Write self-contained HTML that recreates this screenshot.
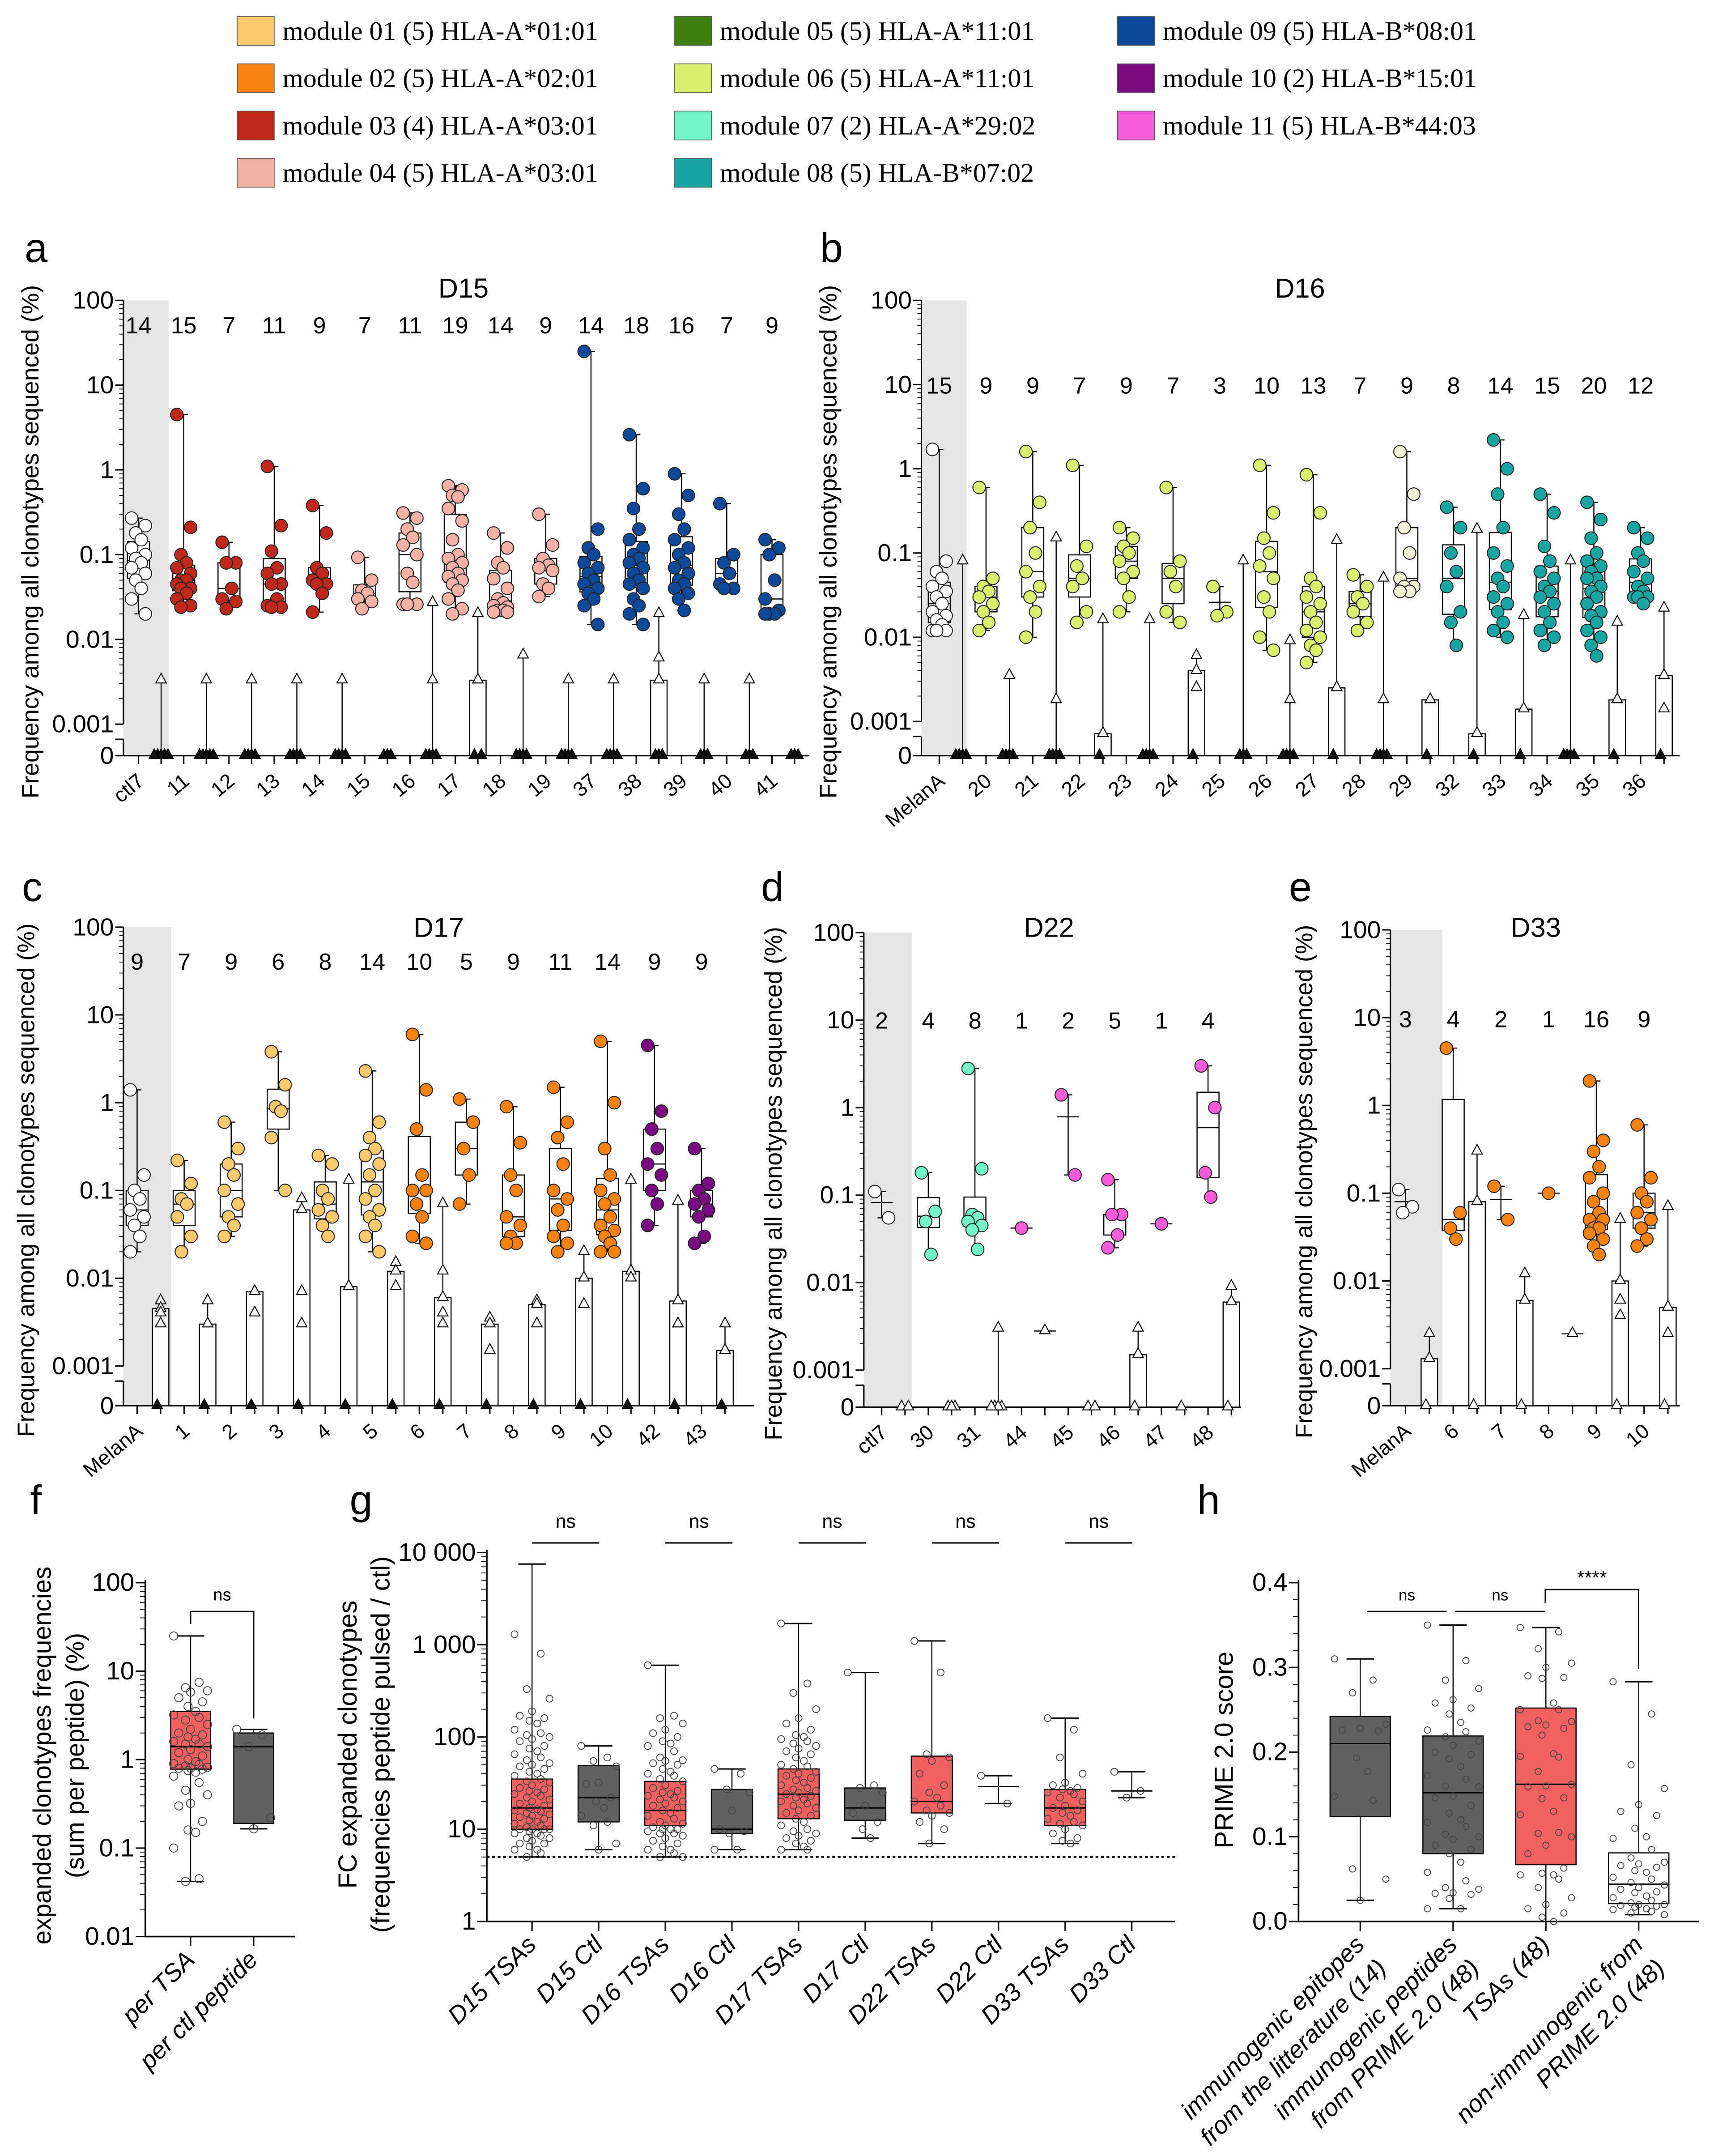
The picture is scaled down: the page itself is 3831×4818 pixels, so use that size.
<!DOCTYPE html>
<html><head><meta charset="utf-8"><style>
html,body{margin:0;padding:0;background:#fff;}
svg{display:block;}
</style></head><body>
<svg id="fig" xmlns="http://www.w3.org/2000/svg" width="3831" height="4818" viewBox="0 0 1250 1572" font-family="Liberation Sans, Arial, sans-serif"></svg>
<script>
const NS='http://www.w3.org/2000/svg';
const svg=document.getElementById('fig');
function mk(tag,attrs,parent,txt){const e=document.createElementNS(NS,tag);for(const k in attrs)e.setAttribute(k,attrs[k]);if(txt!==undefined)e.textContent=txt;(parent||svg).appendChild(e);return e;}

/* ---------- legend data ---------- */
const legendLabels=["module 01 (5) HLA-A*01:01","module 02 (5) HLA-A*02:01","module 03 (4) HLA-A*03:01","module 04 (5) HLA-A*03:01","module 05 (5) HLA-A*11:01","module 06 (5) HLA-A*11:01","module 07 (2) HLA-A*29:02","module 08 (5) HLA-B*07:02","module 09 (5)  HLA-B*08:01","module 10 (2) HLA-B*15:01","module 11 (5) HLA-B*44:03"];
const legendColors=["#F9C96B","#F5820F","#C0281B","#F5B1A6","#3E7D0F","#D8F06E","#72F5C9","#17A6A3","#0E4A9B","#7A0B82","#F55BDB"];
const M={m01:legendColors[0],m02:legendColors[1],m03:legendColors[2],m04:legendColors[3],m06:legendColors[5],m07:legendColors[6],m08:legendColors[7],m09:legendColors[8],m10:legendColors[9],m11:legendColors[10],w:"#ffffff",p:"#F4F2D6"};

/* ---------- panel a data ---------- */
const aCats=["ctl7","11","12","13","14","15","16","17","18","19","37","38","39","40","41"];
const aCounts=[14,15,7,11,9,7,11,19,14,9,14,18,16,7,9];
const aColors=["w","m03","m03","m03","m03","m04","m04","m04","m04","m04","m09","m09","m09","m09","m09"];
const aCirc=[[0.27,0.22,0.18,0.15,0.12,0.1,0.09,0.08,0.07,0.06,0.05,0.04,0.03,0.02],[4.5,0.21,0.1,0.08,0.07,0.06,0.05,0.05,0.045,0.04,0.04,0.035,0.03,0.025,0.024],[0.14,0.08,0.08,0.04,0.03,0.028,0.023],[1.1,0.22,0.11,0.07,0.06,0.045,0.045,0.03,0.025,0.024,0.024],[0.38,0.18,0.07,0.06,0.05,0.045,0.045,0.035,0.021],[0.093,0.05,0.038,0.035,0.03,0.028,0.023],[0.31,0.27,0.2,0.16,0.13,0.1,0.06,0.047,0.026,0.026,0.026],[0.65,0.58,0.5,0.48,0.35,0.25,0.15,0.1,0.09,0.08,0.07,0.06,0.055,0.05,0.045,0.038,0.03,0.023,0.02],[0.18,0.12,0.08,0.07,0.052,0.04,0.03,0.027,0.025,0.024,0.022,0.022,0.021,0.021],[0.3,0.13,0.09,0.075,0.07,0.065,0.045,0.04,0.032],[25,0.2,0.12,0.1,0.08,0.07,0.06,0.05,0.045,0.04,0.035,0.03,0.025,0.015],[2.6,0.6,0.35,0.2,0.15,0.12,0.1,0.09,0.08,0.07,0.06,0.05,0.045,0.04,0.03,0.025,0.02,0.015],[0.9,0.5,0.3,0.2,0.15,0.12,0.1,0.08,0.07,0.06,0.05,0.045,0.04,0.035,0.03,0.022],[0.4,0.1,0.08,0.06,0.045,0.04,0.04],[0.15,0.12,0.1,0.05,0.03,0.022,0.02,0.02,0.02]];
const aTri=[[0.0033,0,0,0,0,0],[0.0033,0,0,0,0,0],[0.0033,0,0,0,0],[0.0033,0,0,0,0],[0.0033,0,0,0,0],[0,0,0],[0.027,0.0033,0,0,0,0],[0.02,0.0033,0.0033,0,0],[0.0065,0,0,0,0],[0.0033,0,0,0,0],[0.0033,0,0,0,0],[0.02,0.006,0.0033,0,0,0],[0.0033,0,0,0],[0.0033,0,0,0],[0,0,0]];

/* ---------- panel b data ---------- */
const bCats=["MelanA","20","21","22","23","24","25","26","27","28","29","32","33","34","35","36"];
const bCounts=[15,9,9,7,9,7,3,10,13,7,9,8,14,15,20,12];
const bColors=["w","m06","m06","m06","m06","m06","m06","m06","m06","m06","p","m08","m08","m08","m08","m08"];
const bCirc=[[1.7,0.08,0.06,0.05,0.04,0.035,0.03,0.025,0.02,0.018,0.016,0.014,0.012,0.012,0.012],[0.6,0.05,0.04,0.035,0.03,0.025,0.02,0.015,0.012],[1.6,0.4,0.2,0.1,0.06,0.04,0.03,0.02,0.01],[1.1,0.12,0.07,0.05,0.04,0.02,0.015],[0.2,0.15,0.12,0.1,0.08,0.06,0.05,0.03,0.02],[0.6,0.08,0.06,0.04,0.02,0.015],[0.04,0.02,0.018],[1.1,0.3,0.15,0.1,0.07,0.05,0.03,0.02,0.01,0.007],[0.85,0.3,0.05,0.04,0.03,0.025,0.02,0.015,0.012,0.01,0.008,0.007,0.005],[0.055,0.04,0.03,0.025,0.02,0.015,0.012],[1.6,0.5,0.2,0.1,0.05,0.04,0.04,0.035,0.035],[0.35,0.2,0.1,0.06,0.04,0.02,0.015,0.008],[2.2,1,0.5,0.2,0.1,0.07,0.05,0.04,0.03,0.025,0.02,0.015,0.012,0.01],[0.5,0.3,0.12,0.08,0.06,0.05,0.04,0.035,0.03,0.025,0.02,0.015,0.012,0.01,0.008],[0.4,0.25,0.15,0.1,0.08,0.07,0.06,0.05,0.05,0.04,0.035,0.03,0.025,0.02,0.018,0.015,0.012,0.01,0.008,0.006],[0.2,0.15,0.1,0.08,0.06,0.05,0.04,0.035,0.03,0.03,0.03,0.025]];
const bTri=[[0.08,0,0,0,0],[0.0035,0,0,0,0],[0.15,0.0018,0,0,0,0],[0.016,0.0006,0.0006,0],[0.016,0,0,0,0],[0.006,0.004,0.0025,0],[0.08,0,0,0],[0.009,0.0018,0,0,0,0],[0.14,0.0025,0.0025,0],[0.05,0.0018,0,0,0,0],[0.0018,0.0018,0.0018,0],[0.19,0.0006,0.0006,0],[0.018,0.0014,0.0014,0],[0.08,0,0,0,0],[0.015,0.0018,0.0018,0],[0.022,0.0035,0.0014,0]];

/* ---------- panel c data ---------- */
const cCats=["MelanA","1","2","3","4","5","6","7","8","9","10","42","43"];
const cCounts=[9,7,9,6,8,14,10,5,9,11,14,9,9];
const cColors=["w","m01","m01","m01","m01","m01","m02","m02","m02","m02","m02","m10","m10"];
const cCirc=[[1.4,0.15,0.1,0.08,0.06,0.05,0.04,0.03,0.02],[0.22,0.12,0.08,0.07,0.05,0.03,0.02],[0.6,0.3,0.2,0.15,0.1,0.07,0.05,0.04,0.03],[3.8,1.6,0.9,0.8,0.4,0.1],[0.25,0.2,0.1,0.08,0.06,0.05,0.04,0.03],[2.3,0.6,0.4,0.3,0.25,0.2,0.15,0.1,0.08,0.06,0.05,0.04,0.03,0.02],[6,1.4,0.5,0.15,0.1,0.1,0.07,0.05,0.03,0.025],[1.1,0.6,0.3,0.15,0.07],[0.9,0.35,0.15,0.1,0.05,0.04,0.03,0.025,0.025],[1.5,0.6,0.4,0.2,0.1,0.08,0.06,0.04,0.03,0.025,0.02],[5,1,0.3,0.15,0.1,0.08,0.07,0.05,0.04,0.035,0.03,0.025,0.02,0.02],[4.5,0.8,0.5,0.3,0.2,0.15,0.1,0.07,0.04],[0.3,0.12,0.1,0.08,0.07,0.06,0.05,0.03,0.025]];
const cTri=[[0.0055,0.0045,0.004,0.003,0],[0.0055,0.003,0.003,0],[0.007,0.004,0.007,0],[0.08,0.06,0.007,0.003,0],[0.13,0.008,0.008,0],[0.015,0.012,0.008,0],[0.07,0.012,0.006,0.004,0.003,0],[0.0035,0.003,0.0015,0],[0.0055,0.005,0.003,0],[0.02,0.01,0.005,0],[0.13,0.012,0.01,0],[0.075,0.0055,0.003,0.003,0],[0.003,0.0015,0.0015,0]];

/* ---------- panel d data ---------- */
const dCats=["ctl7","30","31","44","45","46","47","48"];
const dCounts=[2,4,8,1,2,5,1,4];
const dColors=["w","m07","m07","m11","m11","m11","m11","m11"];
const dCirc=[[0.11,0.055],[0.18,0.065,0.05,0.021],[2.8,0.2,0.06,0.055,0.05,0.045,0.04,0.024],[0.042],[1.4,0.17],[0.15,0.06,0.06,0.035,0.025],[0.047],[3,1,0.18,0.095]];
const dTri=[[0,0],[0,0,0],[0.003,0,0,0,0],[0.0028],[0,0],[0.003,0.0015,0.0015,0],[0],[0.009,0.006,0.006,0]];

/* ---------- panel e data ---------- */
const eCats=["MelanA","6","7","8","9","10"];
const eCounts=[3,4,2,1,16,9];
const eColors=["w","m02","m02","m02","m02","m02"];
const eCirc=[[0.11,0.07,0.06],[4.5,0.06,0.04,0.03],[0.12,0.05],[0.1],[1.9,0.4,0.3,0.2,0.15,0.1,0.08,0.06,0.05,0.05,0.04,0.04,0.035,0.03,0.025,0.02],[0.6,0.15,0.1,0.08,0.06,0.05,0.04,0.03,0.025]];
const eTri=[[0.0025,0.0013,0.0013,0],[0.3,0.08,0.08,0],[0.012,0.006,0.006,0],[0.0025],[0.05,0.01,0.006,0.004,0.01,0],[0.07,0.005,0.0025,0.005,0]];

/* ---------- panel f data ---------- */
const fCats=["per TSA","per ctl peptide"];
const fStats=[[0.042,0.78,1.4,3.5,25],[0.165,0.19,1.4,2,2.2]];
const fPoints=[[25,7.5,6.5,6,5.8,5,4.5,4,3.5,3.2,3,2.8,2.5,2.2,2,1.9,1.8,1.7,1.6,1.5,1.5,1.4,1.3,1.2,1.1,1,0.95,0.9,0.88,0.85,0.82,0.8,0.8,0.78,0.75,0.72,0.65,0.55,0.45,0.4,0.32,0.3,0.2,0.16,0.15,0.1,0.045,0.042],[2.2,1.9,1.4,0.22,0.165]];

/* ---------- panel g data ---------- */
const gCats=["D15 TSAs","D15 Ctl","D16 TSAs","D16 Ctl","D17 TSAs","D17 Ctl","D22 TSAs","D22 Ctl","D33 TSAs","D33 Ctl"];
const gStats=[[5,10,17,35,7500],[6,12,22,49,80],[5,11,16,33,600],[6,9,10,27,45],[6,13,24,45,1700],[8,12.5,17,28,500],[7,15,20,62,1100],[19,29,29,29,38],[7,11,17,27,160],[22,26,26,26,42]];
const gPoints=[[1300,800,330,260,190,170,160,150,140,120,110,105,100,95,90,80,75,70,65,60,56,52,50,48,45,42,40,38,35,33,32,30,28,27,26,25,24,23,22,21,20,19,18,17,16.5,16,15.5,15,14.5,14,13.5,13,12.5,12,11.5,11,10.5,10,10,10,10,9.5,9,9,8.5,8,8,7.5,7,7,6.5,6,6,5.5,5],[80,60,55,48,32,31,22,20,17,14,12,11,7,6],[600,170,160,140,120,110,100,90,85,80,70,60,56,55,52,50,45,42,40,38,35,33,30,28,26,25,24,23,22,21,20,19,18,17,16,15,14,13,12,11.5,11,10.5,10,10,10,9.5,9,9,8.5,8,7.5,7,6.5,6,6,5.5,5,5],[45,40,27,25,16,10,9.5,9,6,6],[1700,380,300,200,160,140,120,105,100,95,90,85,80,75,70,65,60,55,50,48,45,42,40,38,36,34,32,30,28,27,26,25,24,23,22,21,20,19,18,17,16,15,14,13,12,11,10,9.5,9,8.5,8,7.5,7,6.5,6,6],[500,30,28,25,18,15,12,10,8],[1100,500,65,60,55,40,30,25,22,20,18,16,15,14,12,10,7],[38,19],[160,120,60,40,32,30,28,27,26,25,24,22,20,18,17,16,15,14,13,12,11.5,11,10,9,8,7.5,7],[42,26,22]];

/* ---------- panel h data ---------- */
const hCats=["immunogenic epitopes|from the litterature (14)","immunogenic peptides|from PRIME 2.0 (48)","TSAs (48)","non-immunogenic from|PRIME 2.0 (48)"];
const hStats=[[0.025,0.124,0.21,0.242,0.31],[0.015,0.08,0.152,0.219,0.35],[0.0,0.067,0.162,0.252,0.347],[0.008,0.021,0.044,0.081,0.283]];
const hPoints=[[0.31,0.285,0.27,0.233,0.228,0.226,0.225,0.193,0.177,0.148,0.143,0.062,0.05,0.025],[0.35,0.308,0.285,0.275,0.262,0.258,0.252,0.245,0.235,0.226,0.224,0.218,0.213,0.208,0.2,0.197,0.192,0.183,0.172,0.168,0.16,0.159,0.148,0.146,0.137,0.128,0.12,0.117,0.112,0.103,0.1,0.097,0.09,0.085,0.08,0.07,0.058,0.048,0.04,0.038,0.034,0.033,0.032,0.027,0.015,0.015],[0.347,0.342,0.322,0.305,0.3,0.29,0.288,0.287,0.258,0.25,0.25,0.237,0.236,0.232,0.23,0.228,0.22,0.198,0.195,0.194,0.177,0.162,0.16,0.159,0.146,0.145,0.13,0.126,0.105,0.104,0.1,0.09,0.08,0.063,0.057,0.055,0.055,0.05,0.04,0.028,0.02,0.015,0.01,0.005,0.0],[0.283,0.245,0.185,0.157,0.138,0.13,0.125,0.11,0.1,0.098,0.085,0.075,0.07,0.068,0.066,0.064,0.06,0.058,0.052,0.05,0.046,0.043,0.04,0.038,0.035,0.034,0.03,0.028,0.025,0.022,0.02,0.02,0.019,0.018,0.017,0.015,0.014,0.012,0.01,0.008]];

/* ---------- legend ---------- */
const legCol=[173,492,815];
legendLabels.forEach((lab,i)=>{
  const col=i<4?0:(i<8?1:2); const row=i<4?i:(i<8?i-4:i-8);
  const g=mk('g',{});
  
  
  const y=12+row*34.5;
  const sw=mk('rect',{x:legCol[col],y:y,width:27,height:21,fill:legendColors[i],stroke:'#555','stroke-width':0.5},g);
  
  
  const t=mk('text',{x:legCol[col]+33,y:y+17,'font-size':19.5,style:'font-family:"Liberation Serif",serif'},g,lab);
  
  
});

function q(arr,p){const s=[...arr].sort((a,b)=>a-b);const pos=(s.length-1)*p;const lo=Math.floor(pos),hi=Math.ceil(pos);return s[lo]+(s[hi]-s[lo])*(pos-lo);}
function qf(arr,p){const s=[...arr].sort((a,b)=>a-b);return s[Math.floor((s.length-1)*p)];}
function jit(i,n,w){if(n<=1)return 0;const k=i%4;return [-1,1,-0.4,0.4][k]*w;}

/* ---------- scatter/log panels a-e ---------- */
function logPanel(o){
  const G=mk('g',{});
  
  
  const y=v=>v<=0?o.y0:Math.min(o.yTop+(2-Math.log10(v))*o.dec,o.y0-16);
  const yMin=o.yTop+5*o.dec;
  const band=mk('rect',{x:o.x0,y:o.yTop,width:o.gray,height:o.y0-o.yTop,fill:'#e5e5e5'},G);
  
  
  const ax=mk('path',{d:`M${o.x0},${o.yTop}V${yMin}M${o.x0},${yMin+11}V${o.y0}H${o.x1}`,stroke:'#000','stroke-width':1,fill:'none'},G);
  
  
  mk('line',{x1:o.x0-6,x2:o.x0,y1:yMin+11,y2:yMin+11,stroke:'#000'},G);
  const ticks=["100","10","1","0.1","0.01","0.001"];
  ticks.forEach((t,i)=>{
    const yy=o.yTop+i*o.dec;
    mk('line',{x1:o.x0-6,x2:o.x0,y1:yy,y2:yy,stroke:'#000'},G);
    for(let m=2;m<10&&i<5;m++){const ym=yy+o.dec*(1-Math.log10(m));mk('line',{x1:o.x0-3,x2:o.x0,y1:ym,y2:ym,stroke:'#000','stroke-width':0.6},G);}
    const tt=mk('text',{x:o.x0-7,y:yy+6,'text-anchor':'end','font-size':18},G,t);
    
    
  });
  mk('line',{x1:o.x0-6,x2:o.x0,y1:o.y0,y2:o.y0,stroke:'#000'},G);
  const z=mk('text',{x:o.x0-7,y:o.y0+6,'text-anchor':'end','font-size':18},G,'0');
  
  
  const yt=mk('text',{transform:`translate(${o.ylx},${(o.yTop+o.y0)/2+10}) rotate(-90)`,'text-anchor':'middle','font-size':17.5},G,'Frequency among all clonotypes sequenced (%)');
  
  
  const ti=mk('text',{x:o.tx,y:o.ty,'text-anchor':'middle','font-size':20},G,o.title);
  
  
  const le=mk('text',{x:o.lx,y:o.ly,'font-size':30},G,o.letter);
  
  
  o.cats.forEach((c,i)=>{
    const cx=o.cx0+o.step*i, tx=cx+o.step*0.5;
    const col=M[o.colors[i]];
    const ct=mk('text',{x:cx,y:o.cy,'text-anchor':'middle','font-size':17},G,String(o.counts[i]));
    
    
    mk('line',{x1:cx,x2:cx,y1:o.y0,y2:o.y0+6,stroke:'#000'},G);
    mk('line',{x1:tx,x2:tx,y1:o.y0,y2:o.y0+6,stroke:'#000'},G);
    const xl=mk('text',{transform:`translate(${cx+5},${o.y0+20}) rotate(-40)`,'text-anchor':'end','font-size':15},G,c);
    
    
    const pts=o.circ[i];
    const gb=mk('g',{},G);
    
    
    const mx=Math.max(...pts),mn=Math.min(...pts);
    if(pts.length>1){
      mk('line',{x1:cx,x2:cx,y1:y(mx),y2:y(mn),stroke:'#000','stroke-width':0.8},gb);
      if(pts.length>3){const q1=q(pts,0.25),q3=q(pts,0.75),md=q(pts,0.5);
        mk('rect',{x:cx-8,y:y(q3),width:16,height:y(q1)-y(q3),fill:'#fff',stroke:'#000','stroke-width':0.8},gb);
        mk('line',{x1:cx-8,x2:cx+8,y1:y(md),y2:y(md),stroke:'#000','stroke-width':0.8},gb);
      } else {const md=pts.reduce((a,b)=>a+b,0)/pts.length;mk('line',{x1:cx-8,x2:cx+8,y1:y(md),y2:y(md),stroke:'#000','stroke-width':0.8},gb);}
      mk('line',{x1:cx-3,x2:cx+3,y1:y(mx),y2:y(mx),stroke:'#000','stroke-width':0.8},gb);
      mk('line',{x1:cx-3,x2:cx+3,y1:y(mn),y2:y(mn),stroke:'#000','stroke-width':0.8},gb);
    } else {
      mk('line',{x1:cx-8,x2:cx+8,y1:y(pts[0]),y2:y(pts[0]),stroke:'#000','stroke-width':0.8},gb);
    }
    pts.forEach((v,k)=>{
      const p=mk('circle',{cx:cx+jit(k,pts.length,5),cy:y(v),r:4.6,fill:col,stroke:'#222','stroke-width':0.7},gb);
      
      
    });
    const tr=o.tri[i]||[];
    if(tr.length){
      const gt=mk('g',{},G);
      
      
      const tmax=Math.max(...tr);
      if(tr.length===1&&tmax>0){
        mk('line',{x1:tx-8,x2:tx+8,y1:y(tmax),y2:y(tmax),stroke:'#000','stroke-width':0.8},gt);
      } else if(tmax>0){
        mk('line',{x1:tx,x2:tx,y1:y(tmax),y2:o.y0,stroke:'#000','stroke-width':0.8},gt);
        const q3=qf(tr,0.75);
        if(q3>0)mk('rect',{x:tx-6,y:y(q3),width:12,height:o.y0-y(q3),fill:'#fff',stroke:'#000','stroke-width':0.8},gt);
        mk('line',{x1:tx-3,x2:tx+3,y1:y(tmax),y2:y(tmax),stroke:'#000','stroke-width':0.8},gt);
      }
      let zi=0;
      tr.forEach((v,k)=>{
        const yy=y(v);let xx=tx;
        if(v<=0){xx=tx+[-2.5,2.5,0,-5,5][zi%5];zi++;}
        const t=mk('polygon',{points:`${xx-3.8},${yy+2} ${xx+3.8},${yy+2} ${xx},${yy-5}`,fill:(v<=0&&!o.openZero)?'#111':'#fff',stroke:'#000','stroke-width':0.7},gt);
        
        
      });
    }
  });
}
logPanel({name:'panel-a-D15',cats:aCats,counts:aCounts,colors:aColors,circ:aCirc,tri:aTri,x0:90,x1:590,yTop:219,dec:61.8,y0:551,gray:33,cx0:101,step:33,cy:243,ylx:28,tx:338,ty:217,title:'D15',letter:'a',lx:18,ly:191});
logPanel({name:'panel-b-D16',cats:bCats,counts:bCounts,colors:bColors,circ:bCirc,tri:bTri,x0:672,x1:1225,yTop:219,dec:61.4,y0:551,gray:33,cx0:685,step:34.1,cy:287,ylx:610,tx:948,ty:217,title:'D16',letter:'b',lx:598,ly:191});
logPanel({name:'panel-c-D17',cats:cCats,counts:cCounts,colors:cColors,circ:cCirc,tri:cTri,x0:90,x1:550,yTop:676,dec:64,y0:1025,gray:35,cx0:100,step:34.3,cy:707,ylx:25,tx:320,ty:683,title:'D17',letter:'c',lx:16,ly:657});
logPanel({name:'panel-d-D22',cats:dCats,counts:dCounts,colors:dColors,circ:dCirc,tri:dTri,x0:630,x1:905,yTop:680,dec:63.8,y0:1026,gray:35,cx0:643,step:34,cy:750,ylx:570,tx:765,ty:683,title:'D22',letter:'d',lx:555,ly:657,openZero:true});
logPanel({name:'panel-e-D33',cats:eCats,counts:eCounts,colors:eColors,circ:eCirc,tri:eTri,x0:1014,x1:1225,yTop:678,dec:64,y0:1025,gray:38,cx0:1025,step:34.8,cy:749,ylx:957,tx:1120,ty:683,title:'D33',letter:'e',lx:940,ly:657,openZero:true});

/* ---------- box panels f,g,h ---------- */
function boxPanel(o){
  const G=mk('g',{});
  
  
  const ax=mk('path',{d:`M${o.x0},${o.yTop}V${o.yBot}H${o.x1}`,stroke:'#000','stroke-width':1.2,fill:'none'},G);
  
  
  o.ticks.forEach(t=>{
    const yy=o.y(t.v);
    mk('line',{x1:o.x0-7,x2:o.x0,y1:yy,y2:yy,stroke:'#000'},G);
    const tt=mk('text',{x:o.x0-8,y:yy+6,'text-anchor':'end','font-size':18.5},G,t.l);
    
    
  });
  (o.minor||[]).forEach(v=>{const yy=o.y(v);mk('line',{x1:o.x0-4,x2:o.x0,y1:yy,y2:yy,stroke:'#000','stroke-width':0.6},G);});
  o.ytitle.forEach((l,k)=>{
    const yt=mk('text',{transform:`translate(${o.ylx+k*24},${o.ylc}) rotate(-90)`,'text-anchor':'middle','font-size':o.ytf},G,l);
    
    
  });
  const le=mk('text',{x:o.lx,y:o.ly,'font-size':30},G,o.letter);
  
  
  o.cats.forEach((c,i)=>{
    const cx=o.cx0+o.step*i; const s=o.stats[i];
    mk('line',{x1:cx,x2:cx,y1:o.yBot,y2:o.yBot+7,stroke:'#000'},G);
    c.split('|').forEach((ln,k)=>{
      const xl=mk('text',{transform:`translate(${cx+4+k*16},${o.yBot+18+k*17}) rotate(-45)`,'text-anchor':'end','font-size':18,'font-style':'italic'},G,ln);
      
      
    });
    const gb=mk('g',{},G);
    
    
    const fill=o.fills[i];const w=o.bw/2;
    mk('line',{x1:cx,x2:cx,y1:o.y(s[4]),y2:o.y(s[0]),stroke:'#000','stroke-width':0.8},gb);
    mk('line',{x1:cx-10,x2:cx+10,y1:o.y(s[4]),y2:o.y(s[4]),stroke:'#000'},gb);
    mk('line',{x1:cx-10,x2:cx+10,y1:o.y(s[0]),y2:o.y(s[0]),stroke:'#000'},gb);
    const hasBox=s[3]>s[1];
    if(hasBox)mk('rect',{x:cx-w,y:o.y(s[3]),width:2*w,height:o.y(s[1])-o.y(s[3]),fill:fill,stroke:'#000','stroke-width':0.8},gb);
    mk('line',{x1:cx-(hasBox?w:15),x2:cx+(hasBox?w:15),y1:o.y(s[2]),y2:o.y(s[2]),stroke:'#000','stroke-width':1}, gb);
    (o.points[i]||[]).forEach((v,k)=>{
      const p=mk('circle',{cx:cx+[-1,0.5,-0.3,1,0,-0.7,0.7,-0.15,0.3][k%9]*w*0.85,cy:o.y(v),r:o.pr||2.6,fill:'none',stroke:'#444','stroke-width':0.6},gb);
      
      
    });
  });
}
function logMinor(lo,hi){const r=[];for(let d=lo;d<hi;d++)for(let m=2;m<10;m++)r.push(m*Math.pow(10,d));return r;}
const fy=v=>1154+(2-Math.log10(v))*64.5;
boxPanel({name:'panel-f',cats:fCats,stats:fStats,points:fPoints,fills:['#F26060','#606060'],x0:106,x1:215,yTop:1152,yBot:1412,y:fy,ticks:[{v:100,l:'100'},{v:10,l:'10'},{v:1,l:'1'},{v:0.1,l:'0.1'},{v:0.01,l:'0.01'}],minor:logMinor(-2,2),cx0:139,step:46,bw:29,pr:3,ytitle:['expanded clonotypes frequencies','(sum per peptide) (%)'],ylx:37,ylc:1280,ytf:18.5,letter:'f',lx:22,ly:1104});
const gy=v=>1132+(4-Math.log10(v))*67.25;
boxPanel({name:'panel-g',cats:gCats,stats:gStats,points:gPoints,fills:['#F26060','#606060','#F26060','#606060','#F26060','#606060','#F26060','#606060','#F26060','#606060'],x0:355,x1:857,yTop:1130,yBot:1401,y:gy,ticks:[{v:10000,l:'10 000'},{v:1000,l:'1 000'},{v:100,l:'100'},{v:10,l:'10'},{v:1,l:'1'}],minor:logMinor(0,4),cx0:388,step:48.6,bw:30,pr:2.5,ytitle:['FC expanded clonotypes','(frequencies peptide pulsed / ctl)'],ylx:260,ylc:1272,ytf:19,letter:'g',lx:255,ly:1104});
const hy=v=>1401-v*617.5;
boxPanel({name:'panel-h',cats:hCats,stats:hStats,points:hPoints,fills:['#606060','#606060','#F26060','#ffffff'],x0:947,x1:1239,yTop:1152,yBot:1401,y:hy,ticks:[{v:0.4,l:'0.4'},{v:0.3,l:'0.3'},{v:0.2,l:'0.2'},{v:0.1,l:'0.1'},{v:0,l:'0.0'}],minor:[0.02,0.04,0.06,0.08,0.12,0.14,0.16,0.18,0.22,0.24,0.26,0.28,0.32,0.34,0.36,0.38],cx0:992,step:67.7,bw:44,pr:2.3,ytitle:['PRIME 2.0 score'],ylx:899,ylc:1276,ytf:19,letter:'h',lx:873,ly:1104});

/* dotted threshold line in g */
const dl=mk('line',{x1:355,x2:857,y1:gy(5),y2:gy(5),stroke:'#000','stroke-width':1.3,'stroke-dasharray':'2,2'});



/* significance brackets */
function sig(x1,x2,yl,label,drop1,drop2,fs,ty){
  const g=mk('g',{});
  
  
  mk('path',{d:`M${x1},${yl+(drop1||0)}V${yl}H${x2}V${yl+(drop2||0)}`,stroke:'#000','stroke-width':1,fill:'none'},g);
  mk('text',{x:(x1+x2)/2,y:ty||yl-7,'text-anchor':'middle','font-size':fs||12},g,label);
}
for(let i=0;i<5;i++)sig(388+i*97.2,437+i*97.2,1125,'ns',0,0,14,1114);
sig(139,185,1175,'ns',9,78,12.5,1167);
sig(997,1055,1175,'ns',0,0,11.5,1167);
sig(1061,1127,1175,'ns',0,0,11.5,1167);
sig(1127,1195,1159,'****',10,58,14,1155);
</script>
</body></html>
